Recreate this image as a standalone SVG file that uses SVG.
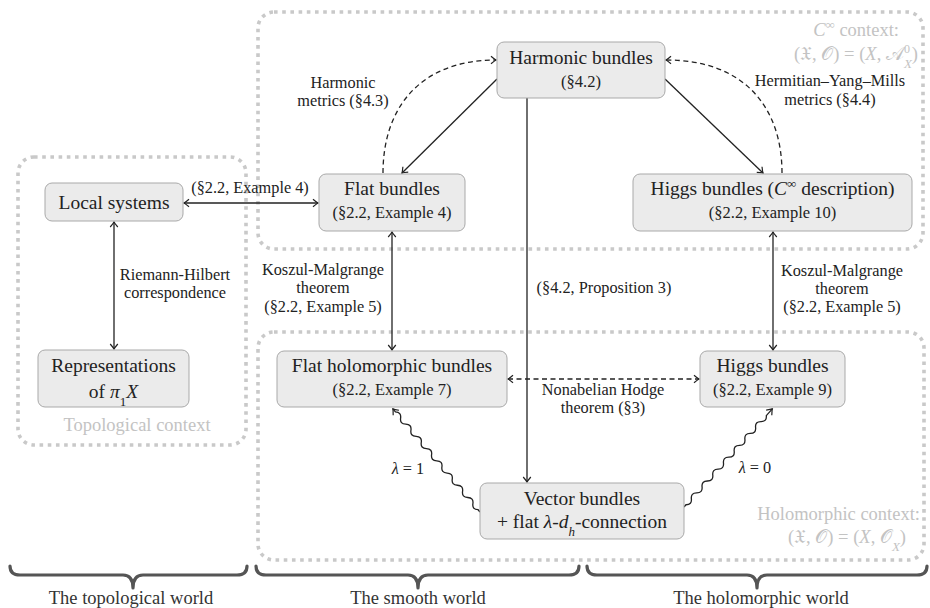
<svg xmlns="http://www.w3.org/2000/svg" width="930" height="608" viewBox="0 0 930 608" font-family="Liberation Serif">
<style>
text{fill:#222}
.t{font-size:19.5px;text-anchor:middle}
.s{font-size:16.5px;text-anchor:middle}
.e{font-size:16.3px;text-anchor:middle}
.c{font-size:18.5px;fill:#c3c3c3}
.w{font-size:18.5px;text-anchor:middle;fill:#333}
.i{font-style:italic}
.node{fill:#ebebeb;stroke:#a9a9a9;stroke-width:1}
.ctx{fill:none;stroke:#c9c9c9;stroke-width:3.6;stroke-dasharray:3.6 4.6}
.ln{fill:none;stroke:#222;stroke-width:1.3}
.da{stroke-dasharray:5 3.5}
.br{fill:none;stroke:#555;stroke-width:3.2;stroke-linecap:round;stroke-linejoin:round}
</style>
<defs>
<marker id="ar" viewBox="-6 -5 8 10" markerWidth="8" markerHeight="10" refX="0" refY="0" orient="auto-start-reverse" markerUnits="userSpaceOnUse">
<path d="M-5,-3.8 Q-1.5,-0.8 0,0 Q-1.5,0.8 -5,3.8" fill="none" stroke="#222" stroke-width="1.2"/>
</marker>
</defs>

<g id="contexts">
<rect id="ctx-topological" class="ctx" x="18" y="157" width="228" height="288" rx="16"/>
<rect id="ctx-cinf" class="ctx" x="258" y="12" width="665" height="237" rx="16"/>
<rect id="ctx-holomorphic" class="ctx" x="258" y="332" width="666" height="228" rx="16"/>
<text class="c" x="899" y="36" text-anchor="end"><tspan class="i">C</tspan><tspan font-size="13" baseline-shift="super">∞</tspan> context:</text>
<text class="c" x="918" y="60" text-anchor="end">(𝔛, 𝒪) = (<tspan class="i">X</tspan>, 𝒜<tspan font-size="12" baseline-shift="super">0</tspan><tspan font-size="13" class="i" baseline-shift="sub" dx="-6">X</tspan>)</text>
<text class="c" x="137" y="431" text-anchor="middle">Topological context</text>
<text class="c" x="920" y="520" text-anchor="end">Holomorphic context:</text>
<text class="c" x="906" y="543" text-anchor="end">(𝔛, 𝒪) = (<tspan class="i">X</tspan>, 𝒪<tspan font-size="13" class="i" baseline-shift="sub">X</tspan>)</text>
</g>

<g id="connectors">
<line class="ln" x1="184" y1="203" x2="318" y2="203" marker-start="url(#ar)" marker-end="url(#ar)"/>
<line class="ln" x1="114" y1="222" x2="114" y2="349" marker-start="url(#ar)" marker-end="url(#ar)"/>
<line class="ln" x1="497" y1="79" x2="402" y2="173" marker-end="url(#ar)"/>
<line class="ln" x1="665" y1="79" x2="763" y2="173" marker-end="url(#ar)"/>
<line class="ln" x1="527" y1="98" x2="527" y2="482" marker-end="url(#ar)"/>
<path class="ln da" d="M383,173 C383,108 420,60 496,60" marker-end="url(#ar)"/>
<path class="ln da" d="M782,173 C782,108 745,60 666,60" marker-end="url(#ar)"/>
<line class="ln" x1="392" y1="232" x2="392" y2="350" marker-start="url(#ar)" marker-end="url(#ar)"/>
<line class="ln" x1="773" y1="232" x2="773" y2="350" marker-start="url(#ar)" marker-end="url(#ar)"/>
<line class="ln da" x1="508" y1="379" x2="699" y2="379" marker-start="url(#ar)" marker-end="url(#ar)"/>
<path class="ln" transform="translate(480,512) rotate(-130.2)" d="M0,0 L3,0 q4,-4.5 8,0 t8,0 t8,0 t8,0 t8,0 t8,0 t8,0 t8,0 t8,0 t8,0 t8,0 t8,0 t8,0 t8,0 t8,0 t8,0 L135,0" marker-end="url(#ar)"/>
<path class="ln" transform="translate(684,507) rotate(-48)" d="M0,0 L3,0 q4,4.5 8,0 t8,0 t8,0 t8,0 t8,0 t8,0 t8,0 t8,0 t8,0 t8,0 t8,0 t8,0 t8,0 t8,0 t8,0 L132,0" marker-end="url(#ar)"/>
<g id="edge-labels">
<text class="e" x="250" y="193">(§2.2, Example 4)</text>
<text class="e" x="175" y="280">Riemann-Hilbert</text>
<text class="e" x="175" y="298">correspondence</text>
<text class="e" x="343" y="88">Harmonic</text>
<text class="e" x="343" y="106">metrics (§4.3)</text>
<text class="e" x="830" y="86">Hermitian–Yang–Mills</text>
<text class="e" x="830" y="105">metrics (§4.4)</text>
<text class="e" x="323" y="275">Koszul-Malgrange</text>
<text class="e" x="323" y="293">theorem</text>
<text class="e" x="323" y="312">(§2.2, Example 5)</text>
<text class="e" x="842" y="276">Koszul-Malgrange</text>
<text class="e" x="842" y="294">theorem</text>
<text class="e" x="842" y="312">(§2.2, Example 5)</text>
<text class="e" x="604" y="293">(§4.2, Proposition 3)</text>
<text class="e" x="603" y="395">Nonabelian Hodge</text>
<text class="e" x="603" y="413">theorem (§3)</text>
<text class="e" x="408" y="474"><tspan class="i">λ</tspan> = 1</text>
<text class="e" x="755" y="473"><tspan class="i">λ</tspan> = 0</text>
</g>
</g>

<g id="local-systems">
<rect class="node" x="45" y="183" width="138" height="38" rx="7"/>
<text class="t" x="114" y="209">Local systems</text>
</g>
<g id="representations">
<rect class="node" x="38" y="350" width="151" height="57" rx="7"/>
<text class="t" x="113.5" y="372">Representations</text>
<text class="t" x="113.5" y="398">of <tspan class="i">π</tspan><tspan font-size="13" baseline-shift="sub">1</tspan><tspan class="i">X</tspan></text>
</g>
<g id="harmonic-bundles">
<rect class="node" x="497" y="42" width="168" height="56" rx="7"/>
<text class="t" x="581" y="64">Harmonic bundles</text>
<text class="s" x="581" y="87">(§4.2)</text>
</g>
<g id="flat-bundles">
<rect class="node" x="319" y="174" width="146" height="57" rx="7"/>
<text class="t" x="392" y="195">Flat bundles</text>
<text class="s" x="392" y="218">(§2.2, Example 4)</text>
</g>
<g id="higgs-cinf">
<rect class="node" x="633" y="174" width="279" height="57" rx="7"/>
<text class="t" x="772.5" y="195">Higgs bundles (<tspan class="i">C</tspan><tspan font-size="13" baseline-shift="super">∞</tspan> description)</text>
<text class="s" x="772.5" y="218">(§2.2, Example 10)</text>
</g>
<g id="flat-holomorphic">
<rect class="node" x="277" y="351" width="230" height="56" rx="7"/>
<text class="t" x="392" y="372">Flat holomorphic bundles</text>
<text class="s" x="392" y="395">(§2.2, Example 7)</text>
</g>
<g id="higgs-bundles">
<rect class="node" x="700" y="351" width="145" height="56" rx="7"/>
<text class="t" x="772.5" y="372">Higgs bundles</text>
<text class="s" x="772.5" y="395">(§2.2, Example 9)</text>
</g>
<g id="vector-bundles">
<rect class="node" x="480" y="483" width="204" height="56" rx="7"/>
<text class="t" x="582" y="505">Vector bundles</text>
<text class="t" x="582" y="528">+ flat <tspan class="i">λ</tspan>-<tspan class="i">d</tspan><tspan font-size="13" class="i" baseline-shift="sub">h</tspan>-connection</text>
</g>

<g id="worlds">
<path class="br" d="M10,566 Q10,575 20,575 L123,575 Q133,575 133,588 Q133,575 143,575 L237,575 Q247,575 247,566"/>
<path class="br" d="M256,566 Q256,575 266,575 L408,575 Q418,575 418,588 Q418,575 428,575 L569,575 Q579,575 579,566"/>
<path class="br" d="M587,566 Q587,575 597,575 L747,575 Q757,575 757,588 Q757,575 767,575 L917,575 Q927,575 927,566"/>
<text class="w" x="131" y="604">The topological world</text>
<text class="w" x="418" y="604">The smooth world</text>
<text class="w" x="761" y="604">The holomorphic world</text>
</g>
</svg>
